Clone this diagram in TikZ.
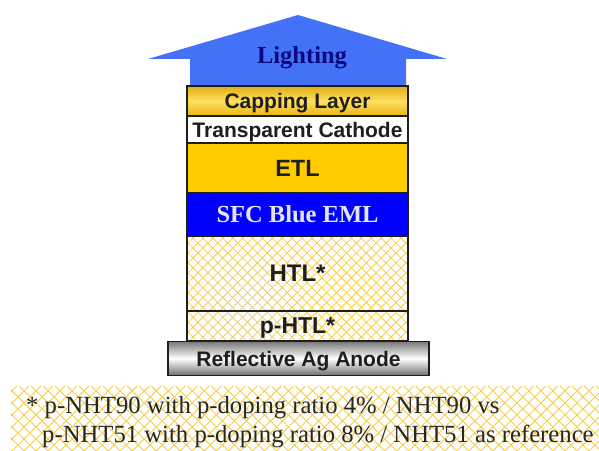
\documentclass[tikz,border=0pt]{standalone}
\usepackage{fontspec}
\setmainfont{Liberation Serif}
\setsansfont{Liberation Sans}
\usetikzlibrary{patterns.meta}
\definecolor{edge}{HTML}{1E1E1E}
\definecolor{etl}{HTML}{FFCC00}
\definecolor{eml}{HTML}{0000FF}
\definecolor{emltxt}{HTML}{E4E4F4}
\definecolor{hatch}{HTML}{F7CE4A}
\definecolor{arrowblue}{HTML}{4371F8}
\definecolor{navy}{HTML}{0A0A80}
\tikzset{
  layer/.style={draw=edge, line width=1.5bp, minimum width=221bp, inner sep=0pt, text depth=0pt,
    text=edge, font=\sffamily\bfseries\fontsize{21bp}{23bp}\selectfont},
  hatchA/.style={pattern={Lines[angle=45,distance=7bp,line width=0.8bp]}, pattern color=hatch},
  hatchB/.style={pattern={Lines[angle=-45,distance=7bp,line width=0.8bp]}, pattern color=hatch},
  hatchC/.style={pattern={Lines[angle=45,distance=8.5bp,line width=0.9bp]}, pattern color=hatch},
  hatchD/.style={pattern={Lines[angle=-45,distance=8.5bp,line width=0.9bp]}, pattern color=hatch},
  note/.style={anchor=base west, inner sep=0pt, font=\fontsize{24.7bp}{26bp}\selectfont, text=black!85}
}
\begin{document}
\begin{tikzpicture}[x=1bp,y=-1bp]
\useasboundingbox (0,0) rectangle (599,451);
\fill[white] (0,0) rectangle (599,451);
% arrow
\fill[arrowblue] (298,15) -- (447,59) -- (406,59) -- (406,87) -- (190,87) -- (190,59) -- (148,59) -- cycle;
\node[font=\bfseries\fontsize{24.5bp}{26bp}\selectfont, text=navy] (light) at (302,58) {Lighting};
% hatched backgrounds
\fill[white] (187,236) rectangle (408,341);
\fill[hatchA] (187,236) rectangle (408,341);
\fill[hatchB] (187,236) rectangle (408,341);
% layers
\node[layer, minimum height=30bp, top color={rgb,255:red,222;green,172;blue,20}, bottom color={rgb,255:red,232;green,180;blue,20}, middle color={rgb,255:red,255;green,224;blue,96}] (cap) at (297.5,101) {Capping Layer};
\node[layer, minimum height=27bp, fill=white] (cath) at (297.5,129.5) {Transparent Cathode};
\node[layer, minimum height=50bp, fill=etl, font=\sffamily\bfseries\fontsize{23.5bp}{25bp}\selectfont] (etl) at (297.5,168) {ETL};
\node[layer, minimum height=43bp, fill=eml, text=emltxt, font=\rmfamily\bfseries\fontsize{24.5bp}{26bp}\selectfont] (eml) at (297.5,214.5) {SFC Blue EML};
\node[layer, minimum height=75bp, font=\sffamily\bfseries\fontsize{24bp}{26bp}\selectfont] (htl) at (297.5,273.5) {HTL*};
\node[layer, minimum height=30bp, font=\sffamily\bfseries\fontsize{23bp}{25bp}\selectfont] (phtl) at (297.5,326) {p-HTL*};
\node[layer, minimum height=34bp, minimum width=261bp, top color={rgb,255:red,120;green,120;blue,120}, bottom color={rgb,255:red,110;green,110;blue,110}, middle color=white] (ag) at (298.5,358.5) {Reflective Ag Anode};
% note
\fill[white] (11,386) rectangle (599,451);
\fill[hatchC] (11,386) rectangle (599,451);
\fill[hatchD] (11,386) rectangle (599,451);
\node[note] (n1) at (26,413) {* p-NHT90 with p-doping ratio 4\% / NHT90 vs};
\node[note] (n2) at (42,442) {p-NHT51 with p-doping ratio 8\% / NHT51 as reference};
\end{tikzpicture}
\end{document}
